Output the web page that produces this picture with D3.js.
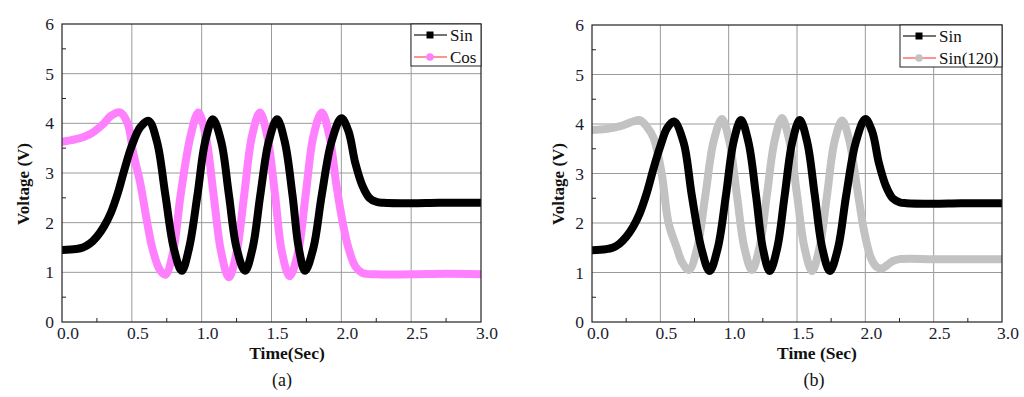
<!DOCTYPE html>
<html lang="en">
<head>
<meta charset="UTF-8">
<title>Voltage vs Time</title>
<style>
  html, body { margin: 0; background: #fff; overflow: hidden; }
  svg { display: block; }
  text { font-family: "Liberation Serif", "Times New Roman", serif; }
</style>
</head>
<body>
<div id="container"></div>
<script src="https://cdnjs.cloudflare.com/ajax/libs/d3/7.8.5/d3.min.js"></script>
<script>
// ---- data: [time (s), voltage (V)] ----
var sinA = [[0,1.45],[0.1,1.47],[0.15,1.5],[0.2,1.58],[0.25,1.72],[0.3,1.92],[0.35,2.2],[0.4,2.6],
  [0.45,3.1],[0.5,3.55],[0.56,3.92],[0.62,4.05],[0.68,3.63],[0.74,2.56],[0.8,1.49],[0.857,1.03],
  [0.91,1.49],[0.97,2.56],[1.025,3.63],[1.08,4.08],[1.14,3.63],[1.195,2.56],[1.25,1.49],[1.31,1.03],
  [1.365,1.49],[1.42,2.56],[1.48,3.63],[1.54,4.08],[1.595,3.63],[1.65,2.56],[1.695,1.49],[1.74,1.03],
  [1.8,1.49],[1.86,2.56],[1.93,3.63],[2.0,4.1],[2.05,3.85],[2.1,3.2],[2.15,2.75],[2.2,2.5],
  [2.25,2.42],[2.3,2.4],[2.5,2.39],[2.7,2.4],[3.0,2.4]];

var cosA = [[0,3.63],[0.1,3.68],[0.2,3.78],[0.3,4.0],[0.35,4.15],[0.415,4.22],[0.47,4.0],[0.51,3.4],
  [0.56,2.8],[0.61,2.0],[0.65,1.45],[0.7,1.05],[0.74,0.95],[0.795,1.4],[0.85,2.57],[0.92,3.74],
  [0.976,4.22],[1.03,3.74],[1.085,2.57],[1.14,1.4],[1.195,0.9],[1.25,1.4],[1.305,2.57],[1.36,3.74],
  [1.417,4.22],[1.47,3.74],[1.525,2.57],[1.575,1.4],[1.63,0.92],[1.69,1.4],[1.745,2.57],[1.8,3.74],
  [1.86,4.22],[1.915,3.74],[1.965,2.75],[2.01,2.0],[2.05,1.5],[2.1,1.12],[2.15,0.99],[2.25,0.96],
  [2.5,0.96],[2.75,0.97],[3.0,0.96]];

var sinB = [[0,1.45],[0.1,1.47],[0.15,1.5],[0.2,1.58],[0.25,1.72],[0.3,1.92],[0.35,2.2],[0.4,2.6],
  [0.45,3.1],[0.5,3.55],[0.55,3.92],[0.6,4.05],[0.67,3.63],[0.73,2.56],[0.8,1.49],[0.86,1.03],
  [0.92,1.49],[0.98,2.56],[1.035,3.63],[1.09,4.08],[1.145,3.63],[1.2,2.56],[1.25,1.49],[1.3,1.03],
  [1.355,1.49],[1.41,2.56],[1.465,3.63],[1.52,4.08],[1.575,3.63],[1.63,2.56],[1.685,1.49],[1.74,1.03],
  [1.8,1.49],[1.86,2.56],[1.93,3.63],[2.0,4.1],[2.05,3.85],[2.1,3.2],[2.15,2.75],[2.2,2.5],
  [2.25,2.42],[2.3,2.4],[2.5,2.39],[2.7,2.4],[3.0,2.4]];

var sin120B = [[0,3.88],[0.1,3.9],[0.2,3.95],[0.3,4.05],[0.35,4.08],[0.4,3.95],[0.45,3.72],[0.51,3.0],
  [0.56,2.0],[0.62,1.5],[0.66,1.2],[0.71,1.05],[0.77,1.5],[0.83,2.57],[0.89,3.65],[0.95,4.1],
  [1.005,3.65],[1.06,2.57],[1.115,1.5],[1.17,1.05],[1.225,1.5],[1.28,2.57],[1.335,3.65],[1.39,4.12],
  [1.445,3.65],[1.5,2.57],[1.555,1.5],[1.61,1.03],[1.665,1.5],[1.72,2.57],[1.775,3.65],[1.83,4.07],
  [1.88,3.7],[1.94,2.7],[1.99,1.85],[2.04,1.3],[2.08,1.12],[2.12,1.08],[2.16,1.15],[2.2,1.23],
  [2.25,1.27],[2.5,1.27],[2.75,1.27],[3.0,1.27]];

var xTicks = [0, 0.5, 1.0, 1.5, 2.0, 2.5, 3.0];
var yTicks = [0, 1, 2, 3, 4, 5, 6];

var W = 1024, H = 397;
var svg = d3.select('#container').append('svg')
  .attr('width', W)
  .attr('height', H);

var panels = [
  { left: 62, right: 481, top: 24, bottom: 322, ytitleX: 23, xtitle: 'Time(Sec)', xtitleX: 287, tag: '(a)', tagX: 282,
    legW: 70, series: [
      { name: 'Sin', data: sinA, color: '#000', legLine: '#444', marker: 'square' },
      { name: 'Cos', data: cosA, color: '#ff80ff', legLine: '#ff6f6f', marker: 'circle' } ] },
  { left: 592, right: 1002, top: 25, bottom: 322, ytitleX: 558, xtitle: 'Time (Sec)', xtitleX: 817, tag: '(b)', tagX: 814,
    legW: 102, series: [
      { name: 'Sin', data: sinB, color: '#000', legLine: '#444', marker: 'square' },
      { name: 'Sin(120)', data: sin120B, color: '#c2c2c2', legLine: '#ff6f6f', marker: 'circle' } ] }
];

panels.forEach(function(p, i) {
  var x = d3.scaleLinear().domain([0, 3]).range([p.left, p.right]);
  var y = d3.scaleLinear().domain([0, 6]).range([p.bottom, p.top]);
  var g = svg.append('g');

  // grid
  g.selectAll('.gx').data(xTicks.slice(1, -1)).enter().append('line')
    .attr('x1', d => x(d)).attr('x2', d => x(d))
    .attr('y1', p.top).attr('y2', p.bottom)
    .attr('stroke', '#9a9a9a').attr('stroke-width', 1);
  g.selectAll('.gy').data(yTicks.slice(1, -1)).enter().append('line')
    .attr('y1', d => y(d)).attr('y2', d => y(d))
    .attr('x1', p.left).attr('x2', p.right)
    .attr('stroke', '#9a9a9a').attr('stroke-width', 1);

  // minor ticks (inward)
  var minorX = d3.range(0.25, 3, 0.5);
  var minorY = d3.range(0.5, 6, 1);
  g.selectAll('.mx').data(minorX).enter().append('line')
    .attr('x1', d => x(d)).attr('x2', d => x(d))
    .attr('y1', p.bottom).attr('y2', p.bottom - 4)
    .attr('stroke', '#222');
  g.selectAll('.my').data(minorY).enter().append('line')
    .attr('y1', d => y(d)).attr('y2', d => y(d))
    .attr('x1', p.left).attr('x2', p.left + 4)
    .attr('stroke', '#222');

  // clip
  var clipId = 'clip' + i;
  svg.append('clipPath').attr('id', clipId).append('rect')
    .attr('x', p.left).attr('y', p.top)
    .attr('width', p.right - p.left).attr('height', p.bottom - p.top);

  var line = d3.line()
    .x(d => x(d[0]))
    .y(d => y(d[1]))
    .curve(d3.curveCatmullRom.alpha(0.5));

  // second series underneath, first (Sin) on top
  [1, 0].forEach(function(k) {
    var s = p.series[k];
    g.append('path')
      .datum(s.data)
      .attr('clip-path', 'url(#' + clipId + ')')
      .attr('d', line)
      .attr('fill', 'none')
      .attr('stroke', s.color)
      .attr('stroke-width', 8)
      .attr('stroke-linejoin', 'round')
      .attr('stroke-linecap', 'round');
  });

  // frame
  g.append('rect')
    .attr('x', p.left).attr('y', p.top)
    .attr('width', p.right - p.left).attr('height', p.bottom - p.top)
    .attr('fill', 'none').attr('stroke', '#222').attr('stroke-width', 1.2);

  // tick labels
  g.selectAll('.tx').data(xTicks).enter().append('text')
    .attr('x', d => x(d) + 6).attr('y', p.bottom + 17)
    .attr('text-anchor', 'middle')
    .attr('font-size', 17.5).attr('fill', '#1c1c30')
    .text(d => d.toFixed(1));
  g.selectAll('.ty').data(yTicks).enter().append('text')
    .attr('x', p.left - 8).attr('y', d => y(d) + 6)
    .attr('text-anchor', 'end')
    .attr('font-size', 17.5).attr('fill', '#1c1c30')
    .text(d => d);

  // axis titles
  g.append('text')
    .attr('transform', 'translate(' + (p.ytitleX + 6) + ',184) rotate(-90)')
    .attr('text-anchor', 'middle')
    .attr('font-size', 17).attr('font-weight', 'bold').attr('fill', '#111')
    .text('Voltage (V)');
  g.append('text')
    .attr('x', p.xtitleX).attr('y', 359)
    .attr('text-anchor', 'middle')
    .attr('font-size', 17.5).attr('font-weight', 'bold').attr('fill', '#111')
    .text(p.xtitle);
  g.append('text')
    .attr('x', p.tagX).attr('y', 386)
    .attr('text-anchor', 'middle')
    .attr('font-size', 18).attr('fill', '#111')
    .text(p.tag);

  // legend
  var lx = p.right - p.legW, ly = p.top;
  var leg = g.append('g');
  leg.append('rect')
    .attr('x', lx).attr('y', ly).attr('width', p.legW).attr('height', 42)
    .attr('fill', '#fff').attr('stroke', '#222').attr('stroke-width', 1);
  p.series.forEach(function(s, k) {
    var cy = ly + 11 + k * 22;
    leg.append('line')
      .attr('x1', lx + 3).attr('x2', lx + 36)
      .attr('y1', cy).attr('y2', cy)
      .attr('stroke', s.legLine).attr('stroke-width', 1.5);
    if (s.marker === 'square') {
      leg.append('rect')
        .attr('x', lx + 15.5).attr('y', cy - 3.5)
        .attr('width', 7).attr('height', 7)
        .attr('fill', s.color);
    } else {
      leg.append('circle')
        .attr('cx', lx + 19).attr('cy', cy).attr('r', 3.8)
        .attr('fill', s.color);
    }
    leg.append('text')
      .attr('x', lx + 39).attr('y', cy + 5.5)
      .attr('font-size', 17).attr('fill', '#111')
      .text(s.name);
  });
});
</script>
</body>
</html>
